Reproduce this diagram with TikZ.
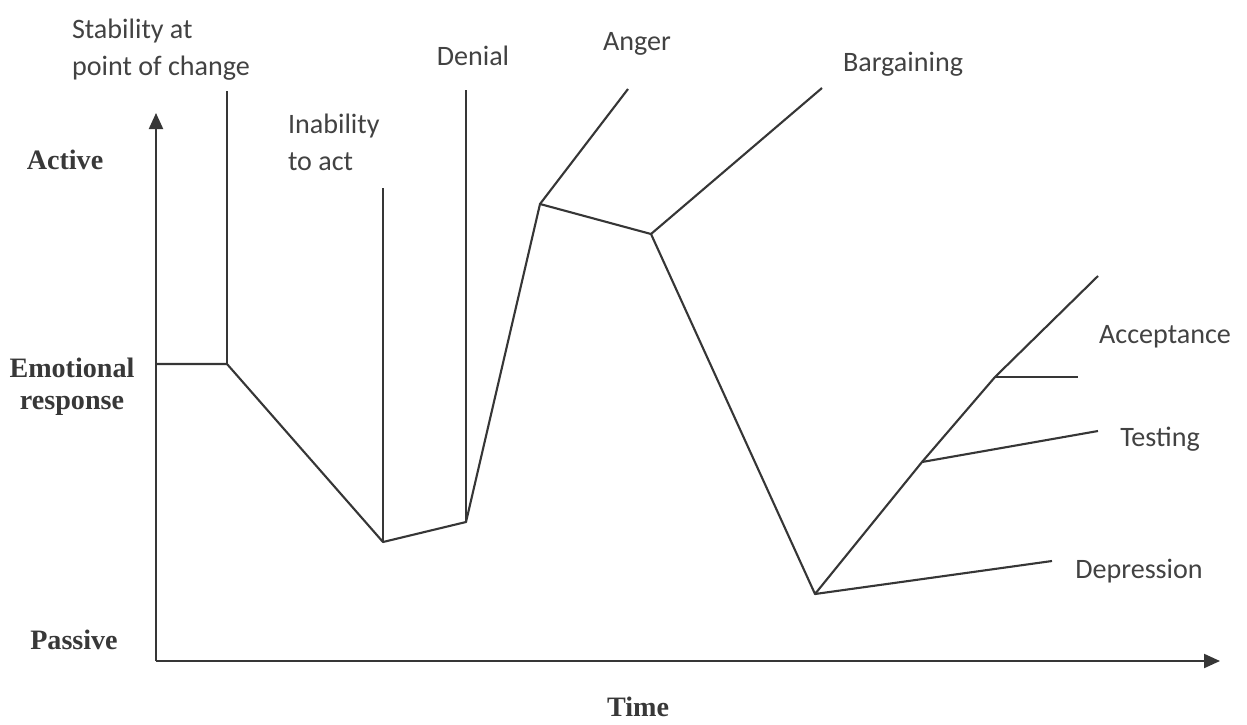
\documentclass[tikz,border=0pt]{standalone}
\usepackage{fontspec}
\setmainfont{Liberation Serif}
\newfontfamily\carlito{Carlito}
\usetikzlibrary{arrows.meta}
\definecolor{inkgray}{HTML}{363636}
\definecolor{txtgray}{HTML}{424242}

\begin{document}
\begin{tikzpicture}[x=0.02cm,y=-0.02cm,
  every node/.style={inner sep=0pt, outer sep=0pt, text=txtgray},
  stage/.style={font=\carlito\fontsize{16}{21}\selectfont, align=left},
  axislabel/.style={font=\bfseries\fontsize{16}{18}\selectfont, align=center, text=black!78},
  curve/.style={draw=inkgray, line width=1.2pt, line join=round},
  axis/.style={draw=inkgray, line width=1.2pt, -{Triangle[length=0.32cm,width=0.28cm]}}]
\useasboundingbox (0,0) rectangle (1247,724);

% axes
\coordinate (origin) at (156,661);
\coordinate (ytip) at (156,113);
\coordinate (xtip) at (1220,661);
\draw[axis] (origin) -- (ytip);
\draw[axis] (origin) -- (xtip);

% change curve
\coordinate (s0) at (156,364);
\coordinate (s1) at (227,364);
\coordinate (s2) at (383,542);
\coordinate (s3) at (466,522);
\coordinate (s4) at (540,204);
\coordinate (s5) at (651,234);
\coordinate (s6) at (815,594);
\coordinate (s7) at (922,462);
\coordinate (s8) at (995,377);
\coordinate (s9) at (1098,276);
\draw[curve] (s0) -- (s1) -- (s2) -- (s3) -- (s4) -- (s5) -- (s6) -- (s7) -- (s8) -- (s9);

% branches
\coordinate (stabtop) at (227,91);
\coordinate (inabtop) at (383,188);
\coordinate (dentop) at (466,90);
\coordinate (angtop) at (628,89);
\coordinate (bartop) at (822,88);
\coordinate (acctip) at (1078,377);
\coordinate (testip) at (1098,431);
\coordinate (deptip) at (1052,561);
\draw[curve] (s1) -- (stabtop);
\draw[curve] (s2) -- (inabtop);
\draw[curve] (s3) -- (dentop);
\draw[curve] (s4) -- (angtop);
\draw[curve] (s5) -- (bartop);
\draw[curve] (s8) -- (acctip);
\draw[curve] (s7) -- (testip);
\draw[curve] (s6) -- (deptip);

% stage labels
\node[stage, anchor=west] (stability) at (72,50) {Stability at\\point of change};
\node[stage, anchor=west] (inability) at (288,142) {Inability\\to act};
\node[stage] (denial) at (473,56) {Denial};
\node[stage] (anger) at (637,44) {Anger};
\node[stage] (bargaining) at (903,64) {Bargaining};
\node[stage] (acceptance) at (1165,337) {Acceptance};
\node[stage] (testing) at (1160,439) {Testing};
\node[stage] (depression) at (1139,571) {Depression};

% axis labels
\node[axislabel] (active) at (65,160) {Active};
\node[axislabel] (emotional) at (72,387) {Emotional\\response};
\node[axislabel] (passive) at (74,640) {Passive};
\node[axislabel] (time) at (638,707) {Time};
\end{tikzpicture}
\end{document}
